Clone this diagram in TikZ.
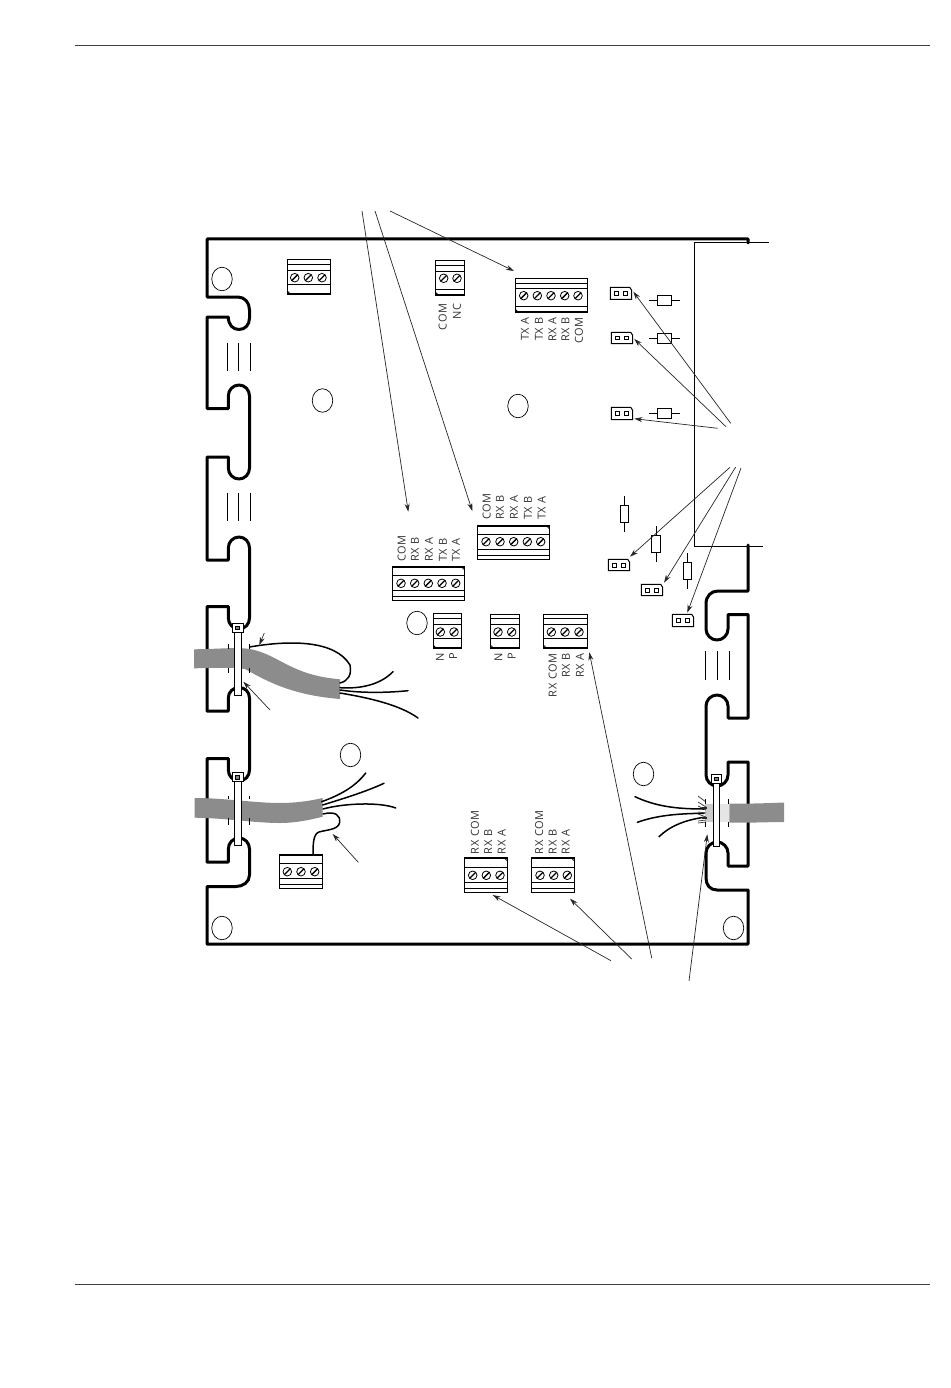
\documentclass[tikz,border=0pt]{standalone}
\usepackage{fontspec}
\setmainfont{Open Sans}[LetterSpace=6]
\usetikzlibrary{arrows.meta,shapes,positioning}

\tikzset{
  boardline/.style={line width=3pt, line join=round, line cap=round},
  thinline/.style={line width=0.8pt},
  leader/.style={line width=0.7pt, draw=black!85, -{Stealth[length=8pt,width=5pt]}},
  wire/.style={line width=1.5pt, line cap=round},
  cable/.style={fill=black!45, draw=none},
  screw/.style={circle, draw, line width=0.8pt, inner sep=0pt, minimum size=8.6pt,
    path picture={\draw[line width=1.3pt] (path picture bounding box.south west) -- (path picture bounding box.north east);}},
  pin/.style={rectangle, draw, line width=0.8pt, inner sep=0pt, minimum size=3.8pt},
  hole/.style={ellipse, draw, line width=0.7pt, inner sep=0pt, minimum width=20.5pt, minimum height=23.5pt},
  termlabel/.style={rotate=90, inner sep=0pt, font=\fontsize{11}{11}\selectfont, text=black!80},
}

% block: name, left, right, top, bottom, screw y, screw x list, thin lines, thick edge
\newcommand{\tblock}[9]{
  \draw[line width=1pt] (#2,#4) rectangle (#3,#5);
  \foreach \ly in {#8} { \draw[thinline] (#2,\ly) -- (#3,\ly); }
  \draw[line width=2pt] (#2,#9) -- (#3,#9);
  \foreach \sx [count=\si] in {#7} { \node[screw] (#1-\si) at (\sx,#6) {}; }
}
% jumper: name, left, right, top, bottom
\newcommand{\jumper}[5]{
  \draw[line width=1pt] (#2,#4) -- (#3-2,#4) -- (#3,#4+3) -- (#3,#5) -- (#2,#5) -- cycle;
  \node[pin] (#1-a) at (#2+6.3,{(#4+#5)/2}) {};
  \node[pin] (#1-b) at (#2+15,{(#4+#5)/2}) {};
}
% cable tie: left, right, head top, strap top, strap bottom
\newcommand{\cabletie}[5]{
  \draw[line width=1pt, fill=white] (#1,#4) rectangle (#2,#5);
  \draw[line width=1pt, fill=white] (#1-2,#3) rectangle (#2+2,#4);
  \draw[line width=0.8pt, fill=black!50] (#1+1.3,#3+2.7) rectangle (#2-1.3,#4-2.7);
}

\begin{document}
\begin{tikzpicture}[x=1pt, y=-1pt, >=Stealth]
  \useasboundingbox (0,0) rectangle (950,1388);

  % page rules
  \draw[line width=1pt, draw=black!75] (75,45.5) -- (930,45.5);
  \draw[line width=1pt, draw=black!75] (75,1284.5) -- (930,1284.5);

  % thin outline at the right
  \draw[line width=1pt] (769,243) -- (694.5,243) -- (694.5,546) -- (763,546);

  % board
  \draw[boardline] (748,243) -- (748,239) -- (207,239) -- (207,297) -- (238,297)
    .. controls (245,297) and (249.5,303) .. (249.5,310) -- (249.5,318)
    .. controls (249.5,325) and (245,329.5) .. (239,329.5)
    .. controls (233,329.5) and (228.3,325) .. (228.3,317) -- (207,317) -- (207,408.5) -- (228.3,408.5) -- (228.3,396)
    .. controls (228.3,390) and (233,385) .. (239,385)
    .. controls (245,385) and (249.5,390) .. (249.5,396) -- (249.5,468)
    .. controls (249.5,474) and (245,479) .. (239,479)
    .. controls (233,479) and (228.3,474) .. (228.3,468) -- (228.3,457) -- (207,457) -- (207,560) -- (228.3,560) -- (228.3,548)
    .. controls (228.3,542) and (233,537) .. (239,537)
    .. controls (245,537) and (249.5,542) .. (249.5,548) -- (249.5,618)
    .. controls (249.5,624) and (245,629) .. (239,629)
    .. controls (233,629) and (228.3,624) .. (228.3,618) -- (228.3,606.5) -- (207,606.5) -- (207,711) -- (228.3,711) -- (228.3,698)
    .. controls (228.3,692) and (233,687.5) .. (239,687.5)
    .. controls (245,687.5) and (249.5,692) .. (249.5,698) -- (249.5,770)
    .. controls (249.5,776) and (245,781) .. (239,781)
    .. controls (233,781) and (228.3,776) .. (228.3,770) -- (228.3,758.5) -- (207,758.5) -- (207,862) -- (228.3,862) -- (228.3,849)
    .. controls (228.3,843) and (233,838) .. (239,838)
    .. controls (245,838) and (249.5,843) .. (249.5,849) -- (249.5,875)
    .. controls (249.5,882) and (243,886.5) .. (236,886.5) -- (207,886.5) -- (207,944) -- (748,944) -- (748,890) -- (717,890)
    .. controls (710,890) and (706,885) .. (706,878) -- (706,853)
    .. controls (706,847) and (711,842) .. (717,842)
    .. controls (723,842) and (728,847) .. (728,853) -- (728,866) -- (748,866) -- (748,762) -- (728,762) -- (728,775)
    .. controls (728,781) and (723,786) .. (717,786)
    .. controls (711,786) and (706,781) .. (706,775) -- (706,706)
    .. controls (706,700) and (711,695) .. (717,695)
    .. controls (723,695) and (728,700) .. (728,706) -- (728,718) -- (748,718) -- (748,614.5) -- (728,614.5) -- (728,629)
    .. controls (728,635) and (723,640) .. (717,640)
    .. controls (711,640) and (706,635) .. (706,629) -- (706,604)
    .. controls (706,596) and (711,591) .. (718,591) -- (748,591) -- (748,545);

  % mounting holes
  \node[hole] (hole1) at (222,279) {};
  \node[hole] (hole2) at (322.5,400.5) {};
  \node[hole] (hole3) at (518,406) {};
  \node[hole] (hole4) at (417,623) {};
  \node[hole] (hole5) at (350.5,755) {};
  \node[hole] (hole6) at (643.5,774) {};
  \node[hole] (hole7) at (222,928) {};
  \node[hole] (hole8) at (733.5,928) {};

  % hidden slots
  \foreach \hx in {227.3,238.7,250} {
    \draw[thinline] (\hx,342.5) -- (\hx,371);
    \draw[thinline] (\hx,492.5) -- (\hx,521);
  }
  \foreach \hx in {705,717,729} { \draw[thinline] (\hx,651) -- (\hx,680); }

  % terminal blocks
  \tblock{tbA}{287.3}{330.7}{259.3}{294}{277.7}{294.7,308.3,322}{264.3,270,284.3}{294}
  \tblock{tbB}{435.3}{464.3}{260.3}{295}{278.3}{443.7,457}{265.3,271,289}{295}
  \tblock{tbC}{515.3}{587.7}{278.3}{312.3}{295.7}{523.7,537.3,551,564.7,578}{283,288.3,306}{312.3}
  \tblock{tbD}{477.3}{549.3}{525.7}{559.3}{541.7}{486,500,513.7,527.3,540.7}{534.3,549.3,555.3}{525.7}
  \tblock{tbE}{392.3}{464.3}{566.7}{600}{583.3}{401,414.7,428.3,442,455.7}{575.7,590.3,596.3}{566.7}
  \tblock{tbF}{433.3}{461.7}{613.3}{648.3}{632}{440.3,454}{618,624,638.7}{648.3}
  \tblock{tbG}{490.7}{519.7}{614.3}{648.3}{632}{498,511.7}{618.7,624,638.7}{648.3}
  \tblock{tbH}{543.7}{587.3}{614.3}{648.3}{632}{551.3,565,579}{618.7,624,638.7}{648.3}
  \tblock{tbI}{279.3}{322.7}{854.7}{888.7}{871.7}{287.3,301,314.7}{863.3,878.3,884}{854.7}
  \tblock{tbJ}{464.3}{507.7}{858.3}{892.3}{875.3}{472.7,486.3,500}{867.3,882.7,888.7}{858.3}
  \tblock{tbK}{531.3}{574.7}{858.3}{892.3}{875.3}{540,553.7,567.3}{867.3,882.7,888.7}{858.3}

  % corner notches
  \foreach \nx/\ny in {287.3/294,435.3/295,515.3/312.3,433.3/648.3,490.7/648.3,543.7/648.3} {
    \draw[thinline] (\nx,\ny-3) -- (\nx+3,\ny);
  }
  \foreach \nx/\ny in {549.3/525.7,464.3/566.7,507.7/858.3,574.7/858.3} {
    \draw[thinline] (\nx-3,\ny) -- (\nx,\ny+3);
  }

  % terminal labels
  \foreach \lx/\ltxt [count=\li] in {442.7/COM,457/NC} {
    \node[termlabel, anchor=east] (lbB\li) at (\lx,303.5) {\ltxt};
  }
  \foreach \lx/\ltxt [count=\li] in {525/TX A,539/TX B,552.3/RX A,565.5/RX B,579/COM} {
    \node[termlabel, anchor=east] (lbC\li) at (\lx,317) {\ltxt};
  }
  \foreach \lx/\ltxt [count=\li] in {486.7/COM,500/RX B,514/RX A,528/TX B,541.7/TX A} {
    \node[termlabel, anchor=west] (lbD\li) at (\lx,520) {\ltxt};
  }
  \foreach \lx/\ltxt [count=\li] in {401.7/COM,415/RX B,429/RX A,443/TX B,456/TX A} {
    \node[termlabel, anchor=west] (lbE\li) at (\lx,562) {\ltxt};
  }
  \foreach \lx/\ltxt [count=\li] in {440/N,453.3/P} {
    \node[termlabel, anchor=east] (lbF\li) at (\lx,653) {\ltxt};
  }
  \foreach \lx/\ltxt [count=\li] in {498.5/N,511.7/P} {
    \node[termlabel, anchor=east] (lbG\li) at (\lx,653) {\ltxt};
  }
  \foreach \lx/\ltxt [count=\li] in {552.7/RX COM,566/RX B,580/RX A} {
    \node[termlabel, anchor=east] (lbH\li) at (\lx,653) {\ltxt};
  }
  \foreach \lx/\ltxt [count=\li] in {475/RX COM,488.3/RX B,501.7/RX A} {
    \node[termlabel, anchor=west] (lbJ\li) at (\lx,854.3) {\ltxt};
  }
  \foreach \lx/\ltxt [count=\li] in {539.3/RX COM,552.7/RX B,565.7/RX A} {
    \node[termlabel, anchor=west] (lbK\li) at (\lx,854.3) {\ltxt};
  }

  % jumpers
  \jumper{jpA}{610.3}{631.7}{287.3}{299.3}
  \jumper{jpB}{611.3}{632.7}{332.3}{343.6}
  \jumper{jpC}{611.3}{632.7}{407.3}{419.7}
  \jumper{jpD}{608.3}{629.7}{559.3}{570.7}
  \jumper{jpE}{641.3}{662.7}{584.3}{595.7}
  \jumper{jpF}{672.3}{693.7}{614.3}{626.7}

  % resistors
  \foreach \ry in {300.3,338,413.7} {
    \draw[line width=0.9pt] (649,\ry) -- (680,\ry);
    \draw[line width=0.9pt, fill=white] (657.3,\ry-5) rectangle (671.7,\ry+5);
  }
  \foreach \rx/\ry in {624.3/514,656/544,687.3/571} {
    \draw[line width=0.9pt] (\rx,\ry-18) -- (\rx,\ry+18);
    \draw[line width=0.9pt, fill=white] (\rx-4.2,\ry-8.7) rectangle (\rx+4.2,\ry+8.7);
  }

  % cable at top left
  \fill[cable] (194,649.3) .. controls (220,649) and (235,647) .. (250,649)
    .. controls (280,655) and (290,675) .. (340,679.3) -- (340,699)
    .. controls (290,695) and (265,680) .. (245,669) .. controls (230,667) and (215,668) .. (194,668.3) -- cycle;
  \draw[wire] (249.5,647) .. controls (290,640) and (335,640) .. (350,665) .. controls (352,675) and (348,681) .. (340,683);
  \draw[wire] (340,687.7) .. controls (360,689) and (380,685) .. (393,671.7);
  \draw[wire] (340,690) .. controls (360,693) and (385,693) .. (408,690.7);
  \draw[wire] (340,693) .. controls (370,698) and (400,705) .. (418,718);

  % cable at bottom left
  \fill[cable] (194.7,798) .. controls (225,798) and (255,803) .. (280,803)
    .. controls (295,803) and (310,801) .. (322.7,798) -- (322.7,816.7)
    .. controls (310,820) and (295,823) .. (280,823) .. controls (255,823) and (225,818) .. (194.7,817.7) -- cycle;
  \draw[wire] (321.7,801.7) .. controls (340,795) and (355,787) .. (365.7,773);
  \draw[wire] (322.7,805) .. controls (345,798) and (365,792) .. (384,783.3);
  \draw[wire] (323,809) .. controls (345,803) and (380,802) .. (395.7,808);
  \draw[wire] (323,814) .. controls (335,811) and (341,815) .. (339.5,823)
    .. controls (338,830) and (325,830) .. (319,832)
    .. controls (313,834) and (313,845) .. (313,855);

  % cable at right
  \fill[black!20] (705,804) rectangle (713,822);
  \fill[black!10] (719,804) rectangle (729,822);
  \fill[cable] (729.3,803.5) .. controls (750,804) and (770,803) .. (784,802.5) -- (784,822)
    .. controls (770,822) and (750,823) .. (729.3,822.5) -- cycle;
  \draw[wire] (635,796.7) .. controls (655,806) and (675,809) .. (704,809);
  \draw[wire] (637.3,822.3) .. controls (655,816) and (675,813.5) .. (704,813.3);
  \draw[wire] (659,836.7) .. controls (670,826) and (685,820) .. (704,817.3);
  \foreach \fy/\fe in {800/796,805/802,808/806,811/812,815/814,818/821,820/823} {
    \draw[line width=0.7pt, draw=black!80] (706,\fy+2) -- (698,\fe);
  }
  \foreach \fy in {808,818} {
    \draw[line width=2.4pt, draw=black!85] (702,\fy) -- (707,\fy);
  }

  % ticks beside the ties
  \foreach \tx in {228.3,249} {
    \draw[thinline] (\tx,644) -- (\tx,649); \draw[thinline] (\tx,668) -- (\tx,673);
    \draw[thinline] (\tx,796) -- (\tx,799); \draw[thinline] (\tx,818) -- (\tx,825);
  }
  \foreach \tx in {705.3,728.3} {
    \draw[thinline] (\tx,799) -- (\tx,804); \draw[thinline] (\tx,822) -- (\tx,826.7);
  }

  % cable ties
  \cabletie{234.3}{241}{623.3}{632.3}{695}
  \cabletie{234.3}{241}{772.7}{781.7}{845}
  \cabletie{713.3}{719.3}{774.7}{783.3}{846.7}

  % leader ends
  \coordinate (topA) at (362,211);
  \coordinate (topB) at (375,211);
  \coordinate (topC) at (390,211);
  \coordinate (tipE) at (408.3,511.7);
  \coordinate (tipD) at (472.3,511);
  \coordinate (tipC) at (514,271);
  \coordinate (rightA) at (730.7,423.3);
  \coordinate (rightB) at (726,426.7);
  \coordinate (rightC) at (717.7,428.3);
  \coordinate (rightD) at (730,467.3);
  \coordinate (rightE) at (735.7,467);
  \coordinate (rightF) at (741,468);
  \coordinate (tipjpA) at (633.3,291.7);
  \coordinate (tipjpB) at (634.3,339);
  \coordinate (tipjpC) at (634.3,418.7);
  \coordinate (tipjpD) at (630,556.7);
  \coordinate (tipjpE) at (664,582.7);
  \coordinate (tipjpF) at (687.3,612.7);
  \coordinate (botJ) at (611,960.7);
  \coordinate (botK) at (631.7,959);
  \coordinate (botH) at (651.7,958);
  \coordinate (botT) at (689,981);
  \coordinate (tipJ) at (492.7,895);
  \coordinate (tipK) at (570,898.7);
  \coordinate (tipH) at (589.3,652.3);
  \coordinate (tipT) at (707.3,834.3);
  \coordinate (wireA) at (264.3,633);
  \coordinate (tipwA) at (259.3,645);
  \coordinate (tieA) at (270,710);
  \coordinate (tiptA) at (243.3,681.7);
  \coordinate (wireB) at (358.3,862.3);
  \coordinate (tipwB) at (332.7,834);

  % leaders
  \draw[leader] (topA) -- (tipE);
  \draw[leader] (topB) -- (tipD);
  \draw[leader] (topC) -- (tipC);
  \draw[leader] (rightA) -- (tipjpA);
  \draw[leader] (rightB) -- (tipjpB);
  \draw[leader] (rightC) -- (tipjpC);
  \draw[leader] (rightD) -- (tipjpD);
  \draw[leader] (rightE) -- (tipjpE);
  \draw[leader] (rightF) -- (tipjpF);
  \draw[leader] (botJ) -- (tipJ);
  \draw[leader] (botK) -- (tipK);
  \draw[leader] (botH) -- (tipH);
  \draw[leader] (botT) -- (tipT);
  \draw[leader] (wireA) -- (tipwA);
  \draw[leader] (tieA) -- (tiptA);
  \draw[leader] (wireB) -- (tipwB);
\end{tikzpicture}
\end{document}
